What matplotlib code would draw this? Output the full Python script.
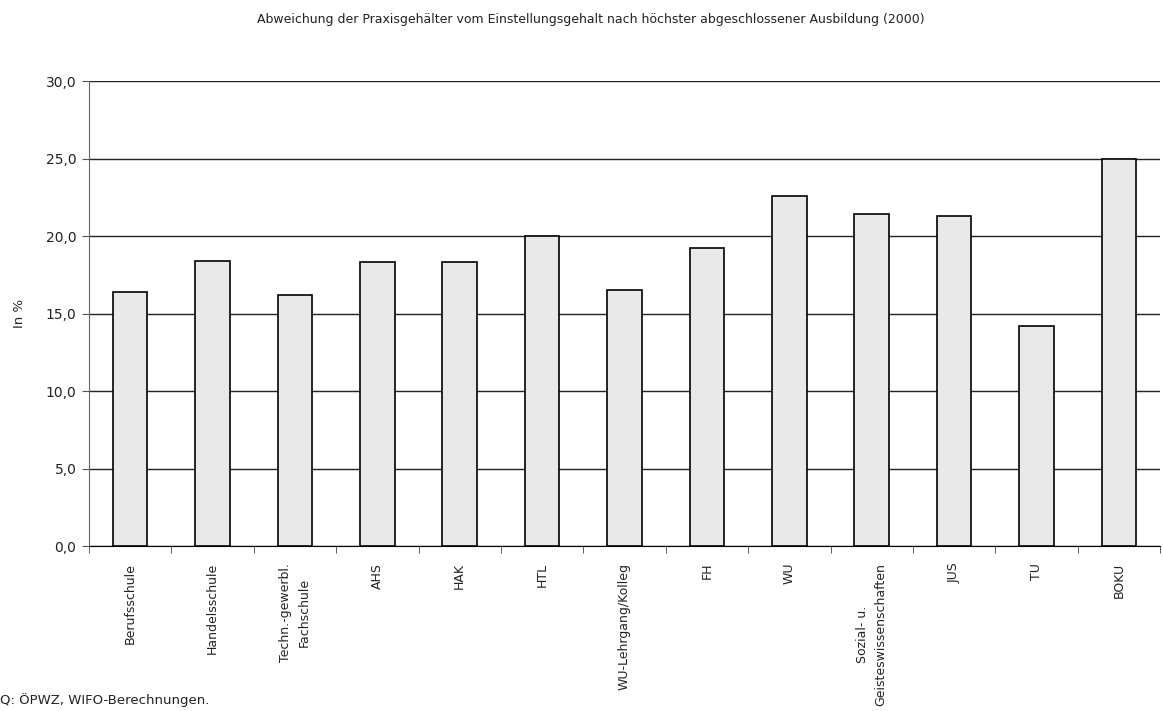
import numpy as np
import matplotlib
matplotlib.use('Agg')
import matplotlib.pyplot as plt
from matplotlib.ticker import FixedLocator, FuncFormatter

plt.rcParams['font.family'] = ['DejaVu Sans']
plt.rcParams['font.size'] = 9
plt.rcParams['text.color'] = '#222222'

# Daten
kategorien = ['Berufsschule', 'Handelsschule', 'Techn.-gewerbl.\nFachschule', 'AHS', 'HAK', 'HTL',
              'WU-Lehrgang/Kolleg', 'FH', 'WU', 'Sozial- u.\nGeisteswissenschaften', 'JUS', 'TU', 'BOKU']
werte = [16.4, 18.4, 16.2, 18.3, 18.3, 20.0, 16.5, 19.2, 22.6, 21.4, 21.3, 14.2, 25.0]
y_ticks = [0, 5, 10, 15, 20, 25, 30]

fig = plt.figure(figsize=(11.63, 7.11), dpi=100)
ax = fig.add_axes([0.0765, 0.232, 0.921, 0.654])

x = np.arange(len(kategorien))
ax.bar(x, werte, width=0.42, color='#e9e9e9', edgecolor='black', linewidth=1.2, zorder=3)

ax.set_xlim(-0.5, len(kategorien) - 0.5)
ax.set_ylim(0, 30)
ax.set_yticks(y_ticks)
ax.yaxis.set_major_formatter(FuncFormatter(lambda v, p: f'{v:.1f}'.replace('.', ',')))
ax.yaxis.grid(True, color='#222222', linewidth=1.0, zorder=0)
ax.tick_params(axis='y', direction='out', length=5, color='#555555', labelsize=10,
               labelcolor='#222222', pad=4)

ax.set_xticks(x)
ax.set_xticklabels(kategorien, rotation=90, ha='center', va='top', multialignment='center',
                   fontsize=9, linespacing=1.6, color='#222222')
ax.tick_params(axis='x', which='major', length=0, pad=12)
ax.xaxis.set_minor_locator(FixedLocator(np.arange(-0.5, len(kategorien), 1.0)))
ax.tick_params(axis='x', which='minor', direction='out', length=5, color='#444444')

for s in ['top', 'right']:
    ax.spines[s].set_visible(False)
ax.spines['left'].set_color('#666666')
ax.spines['bottom'].set_color('black')

ax.set_ylabel('In %', fontsize=9.5, labelpad=14, color='#222222')

fig.text(0.508, 0.972, 'Abweichung der Praxisgehälter vom Einstellungsgehalt nach höchster abgeschlossener Ausbildung (2000)',
         ha='center', va='center', fontsize=9)
fig.text(0.0, 0.006, 'Q: ÖPWZ, WIFO-Berechnungen.', ha='left', va='bottom', fontsize=9.5)

fig.savefig('out.png', dpi=100)
